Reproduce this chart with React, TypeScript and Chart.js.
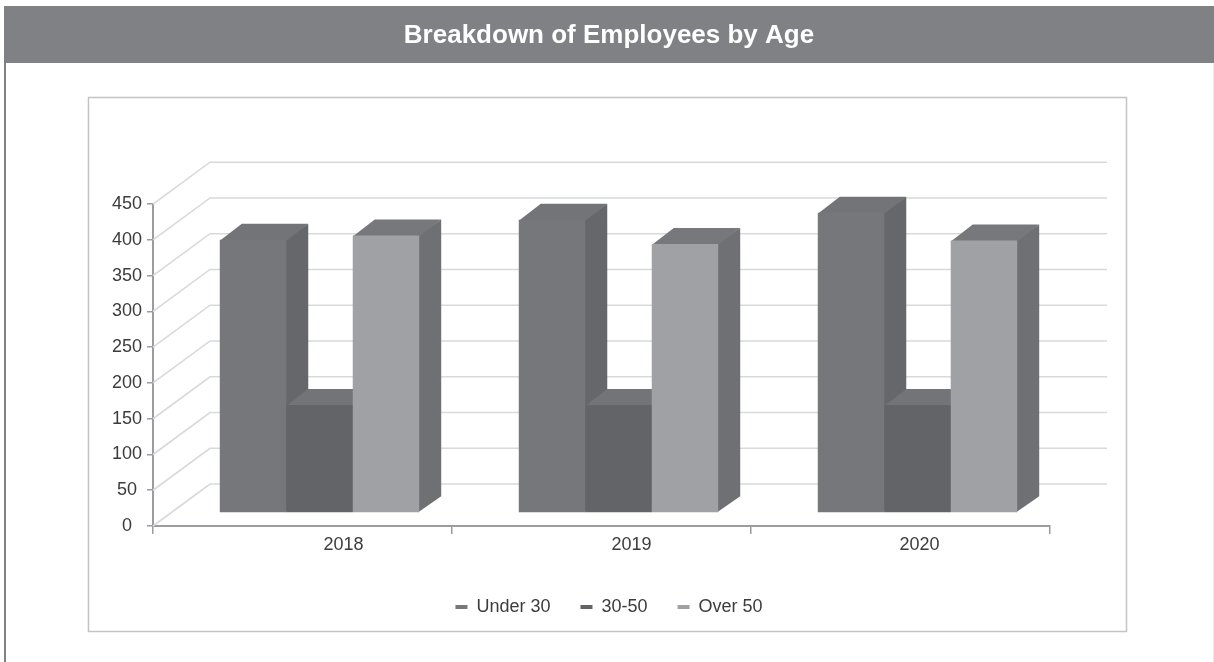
import React, { useEffect, useRef } from "react";
import { Chart, registerables } from "chart.js";

Chart.register(...registerables);

const years = ["2018", "2019", "2020"];
const under30 = [382, 410, 420];
const age30to50 = [151, 151, 151];
const over50 = [388, 376, 381];
const yTicks = { min: 0, max: 450, step: 50 };

const FONT = "'Liberation Sans', Arial, sans-serif";
const TEXT = "#3c3c3e";
const BAND = "#808184";
const GRID = "#d8d9da";
const AXIS = "#9b9c9f";

// Perspective used for the pseudo-3D look
const WALL = { dx: 57, dy: -42 };
const BAR_PLANE = { dx: 17, dy: -13 };
const BAR_DEPTH = { dx: 22, dy: -16 };
const YEAR_LABEL_SHIFT = [41, 30, 19];

const faces = [
  { front: "#76777b", side: "#66676a", top: "#737478" },
  { front: "#636467", side: "#5c5d60", top: "#737478" },
  { front: "#a0a1a4", side: "#6f7074", top: "#77787c" },
];

const poly = (ctx: CanvasRenderingContext2D, pts: number[][], fill: string) => {
  ctx.beginPath();
  pts.forEach(([x, y], i) => (i ? ctx.lineTo(x, y) : ctx.moveTo(x, y)));
  ctx.closePath();
  ctx.fillStyle = fill;
  ctx.fill();
};

// Page furniture: header band's left rule, outer frame and chart panel
const framePlugin = {
  id: "frame",
  beforeDraw(chart: any) {
    const { ctx, width, height } = chart;
    ctx.save();
    ctx.fillStyle = "#ffffff";
    ctx.fillRect(0, 0, width, height);
    ctx.fillStyle = BAND;
    ctx.fillRect(4, 6, width - 4, 57);
    ctx.fillRect(4, 63, 2, height - 63);
    ctx.fillStyle = "#ececed";
    ctx.fillRect(1213, 63, 1, height - 63);
    ctx.strokeStyle = "#c3c4c5";
    ctx.lineWidth = 1.5;
    ctx.strokeRect(88.5, 97.5, 1038, 534);
    ctx.restore();
  },
};

// Back and side walls behind the bars, laid out from the value scale
const wallPlugin = {
  id: "walls",
  beforeDatasetsDraw(chart: any) {
    const { ctx, scales, chartArea } = chart;
    ctx.save();
    ctx.strokeStyle = GRID;
    ctx.lineWidth = 1.6;
    scales.y.ticks.forEach((t: any) => {
      const y = scales.y.getPixelForValue(t.value);
      ctx.beginPath();
      ctx.moveTo(chartArea.left, y);
      ctx.lineTo(chartArea.left + WALL.dx, y + WALL.dy);
      ctx.lineTo(chartArea.right + WALL.dx, y + WALL.dy);
      ctx.stroke();
    });
    ctx.restore();
  },
};

// Bars are painted left to right, each with its side and top faces first
const barsPlugin = {
  id: "bars3d",
  beforeDatasetDraw: () => false,
  afterDatasetsDraw(chart: any) {
    const { ctx } = chart;
    ctx.save();
    ctx.translate(BAR_PLANE.dx, BAR_PLANE.dy);
    chart.data.datasets.forEach((_: any, i: number) => {
      const meta = chart.getDatasetMeta(i);
      meta.data.forEach((bar: any) => {
        const l = bar.x - bar.width / 2;
        const r = bar.x + bar.width / 2;
        const { dx, dy } = BAR_DEPTH;
        // Faces run one pixel under the front so no seam shows at the shared edge
        poly(ctx, [[r - 1, bar.y], [r + dx, bar.y + dy], [r + dx, bar.base + dy], [r - 1, bar.base]], faces[i].side);
        poly(ctx, [[l, bar.y + 1], [l + dx, bar.y + dy], [r + dx, bar.y + dy], [r, bar.y + 1]], faces[i].top);
      });
      meta.controller.draw();
    });
    ctx.restore();
  },
};

// Year captions sit off-centre within their category
const yearLabelPlugin = {
  id: "yearLabels",
  afterDraw(chart: any) {
    const { ctx, scales } = chart;
    ctx.save();
    ctx.font = `18px ${FONT}`;
    ctx.fillStyle = TEXT;
    ctx.textAlign = "center";
    ctx.textBaseline = "middle";
    years.forEach((year, i) => {
      ctx.fillText(year, scales.x.getPixelForValue(i) + YEAR_LABEL_SHIFT[i], scales.y.bottom + 19);
    });
    ctx.restore();
  },
};

export default function App() {
  const ref = useRef<HTMLCanvasElement>(null);

  useEffect(() => {
    const makeSet = (label: string, data: number[], i: number) => ({
      label,
      data,
      backgroundColor: faces[i].front,
      borderWidth: 0,
      categoryPercentage: 0.667,
      barPercentage: 1,
      clip: false as const,
    });

    const chart = new Chart(ref.current!, {
      type: "bar",
      data: {
        labels: years,
        datasets: [
          makeSet("Under 30", under30, 0),
          makeSet("30-50", age30to50, 1),
          makeSet("Over 50", over50, 2),
        ],
      },
      options: {
        animation: false,
        responsive: false,
        events: [],
        layout: { padding: { left: 4, right: 0, top: 0, bottom: 36 } },
        plugins: {
          tooltip: { enabled: false },
          title: {
            display: true,
            text: "Breakdown of Employees by Age",
            color: "#ffffff",
            font: { family: FONT, size: 26, weight: "bold", lineHeight: 1.2 },
            padding: { top: 20, bottom: 153 },
          },
          legend: {
            position: "bottom",
            labels: {
              color: TEXT,
              font: { family: FONT, size: 18 },
              boxWidth: 12,
              boxHeight: 4,
              padding: 30,
            },
          },
        },
        scales: {
          x: {
            grid: { drawOnChartArea: false, drawTicks: true, tickLength: 8, color: AXIS, lineWidth: 1.5 },
            border: { color: AXIS, width: 2 },
            ticks: { display: false },
            afterFit(scale: any) {
              scale.height = 42;
            },
          },
          y: {
            min: yTicks.min,
            max: yTicks.max,
            grid: { drawOnChartArea: false, drawTicks: true, tickLength: 6, color: AXIS, lineWidth: 1.5 },
            border: { color: AXIS, width: 2 },
            ticks: {
              stepSize: yTicks.step,
              color: TEXT,
              font: { family: FONT, size: 18 },
              padding: 5,
              crossAlign: "center",
            },
            afterFit(scale: any) {
              scale.width = 149;
            },
          },
          // Blank axis that reserves the room the back wall runs into
          wallMargin: {
            type: "linear",
            position: "right",
            grid: { display: false },
            border: { display: false },
            ticks: { display: false },
            afterFit(scale: any) {
              scale.width = 164;
            },
          },
        },
      },
      plugins: [framePlugin, wallPlugin, barsPlugin, yearLabelPlugin],
    } as any);

    return () => chart.destroy();
  }, []);

  return (
    <div style={{ position: "fixed", left: 0, top: 0, width: 1214, height: 662 }}>
      <canvas ref={ref} width={1214} height={662} style={{ display: "block" }} />
    </div>
  );
}
